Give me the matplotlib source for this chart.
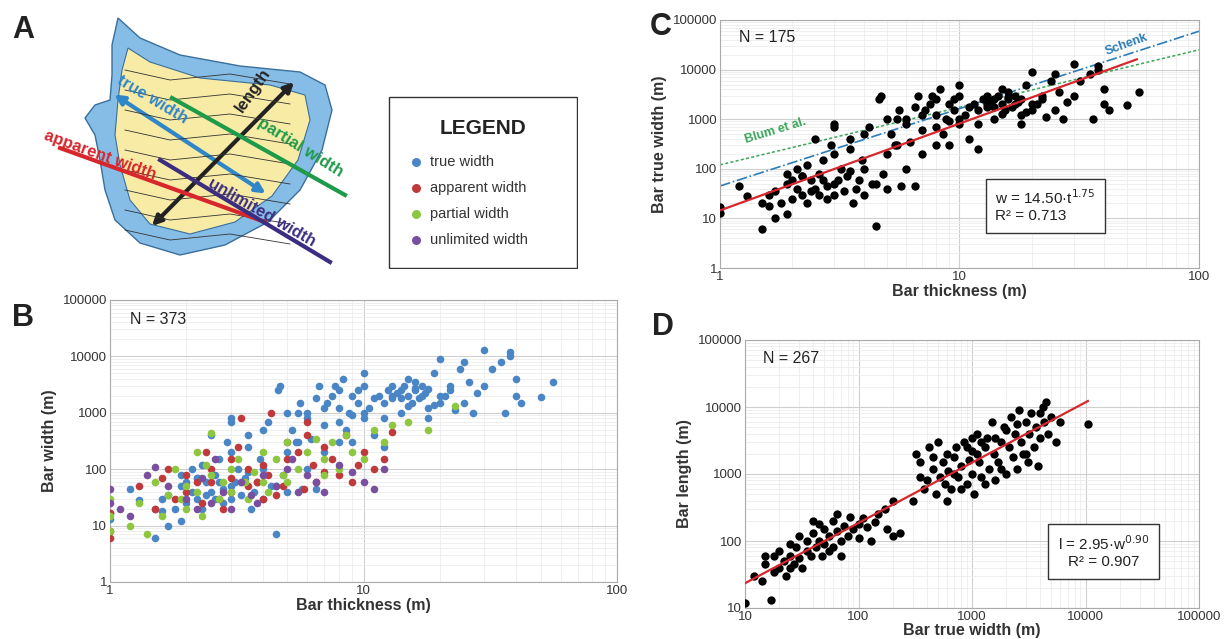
import matplotlib
matplotlib.use("Agg")
import matplotlib.pyplot as plt
import numpy as np
from matplotlib.patches import Polygon, Rectangle, FancyArrowPatch

plt.rcParams['font.family'] = ['Liberation Sans', 'DejaVu Sans']

# ---- data ----
# panel C / true width in B: (thickness m, true width m)
c_pts = [(1,17),(1,13),(1.2,45),(1.3,28),(1.5,6),(1.5,20),(1.6,18),(1.6,30),(1.7,10),(1.7,35),(1.8,20),(1.9,12),(1.9,50),
 (2,25),(2,60),(2.1,40),(2.1,100),(2.2,70),(2.2,30),(2.3,20),(2.3,120),(2.4,35),(2.4,60),(2.5,40),(2.5,400),(2.6,30),(2.6,80),
 (2.7,150),(2.8,25),(2.8,45),(2.9,300),(3,50),(3,800),(3,200),(3,30),(3.1,60),(3.2,100),(3.3,35),(3.4,70),(3.5,90),(3.5,250),
 (3.6,20),(3.7,40),(3.8,60),(3.9,150),(4,100),(4,500),(4,30),(4.2,700),(4.3,50),(4.5,7),(4.6,2500),(4.7,3000),(4.8,80),(5,200),
 (5,40),(5.2,500),(5.4,300),(5.5,1000),(5.6,1500),(5.7,45),(6,100),(6,800),(6.2,350),(6.5,45),(6.7,3000),(7,600),(7,200),
 (7.2,1500),(7.5,2000),(7.7,3000),(8,700),(8,1200),(8.3,4000),(8.5,500),(8.8,1000),(9,2000),(9,300),(9.5,1500),(10,800),
 (10,3000),(10,5000),(10.5,1200),(11,400),(11.5,2000),(12,250),(12,1500),(12.5,2500),(13,3000),(13,1800),(13.5,2200),(14,2500),
 (14,1000),(14.5,3000),(15,2000),(15,4000),(15.5,1500),(16,2500),(16,3500),(16.5,1800),(17,3000),(17.5,2200),(18,800),(18,2600),
 (19,5000),(20,9000),(20,1500),(21,2000),(22,3000),(23,1100),(24,6000),(25,8000),(26,3500),(27,1000),(28,2200),(30,13000),
 (30,3000),(32,6000),(35,8000),(36,1000),(38,12000),(38,10000),(40,4000),(40,2000),(42,1500),(50,1900),(56,3500),(25,1500),
 (20,2000),(18,1200),(15,1300),(14,1800),(12,800),(9,900),(8,2500),(7,1200),(6.5,1800),(5.5,300),(5,1000),(4.5,50),(3.5,400),
 (3,700),(2.7,60),(2.2,70),(1.9,80),(16,2800),(17,2000),(19,1400),(22,2500),(13,2000),(11,1800),(10,1000),(9.5,2500),(8,300),(6,1000)]
apparent_pts = [(1,6),(1,8),(1,17),(1.3,50),(1.5,20),(1.7,100),(1.8,30),(2,80),(2,40),(2.2,60),(2.3,25),(2.5,100),(2.5,60),
 (2.7,30),(2.8,20),(3,150),(3,70),(3,40),(3.2,250),(3.5,50),(3.5,100),(3.8,60),(4,30),(4,120),(4.2,80),(4.5,35),(4.8,50),
 (5,300),(5,150),(5.5,200),(5.8,45),(6,700),(6.3,120),(6.5,60),(7,250),(7,90),(7.5,150),(8,80),(8.5,400),(9,60),(9.5,120),
 (10,200),(11,100),(12,150),(13,450),(3.3,800),(4.3,1000),(6,400),(2.4,200),(1.6,70)]
partial_pts = [(1,8),(1,15),(1,30),(1.2,10),(1.3,25),(1.4,7),(1.5,60),(1.6,15),(1.7,35),(1.8,100),(1.9,30),(2,20),(2,50),
 (2.2,40),(2.3,15),(2.4,120),(2.5,80),(2.5,430),(2.7,30),(2.8,60),(3,100),(3,40),(3.2,150),(3.4,60),(3.5,30),(3.7,90),(4,200),
 (4,60),(4.2,40),(4.5,150),(4.8,80),(5,60),(5,300),(5.5,100),(6,200),(6.5,350),(7,80),(7,150),(7.5,300),(8,100),(8.5,400),
 (9,200),(10,150),(11,500),(12,300),(13,600),(18,500),(23,1300),(15,700),(2.2,200)]
unlimited_pts = [(1,45),(1,25),(1.2,15),(1.4,80),(1.5,110),(1.7,50),(2,30),(2.2,20),(2.5,25),(2.6,150),(2.8,40),(3,20),
 (3.3,60),(3.6,35),(4,80),(4.5,50),(5,100),(5.5,40),(6,80),(6.5,60),(7,40),(8,120),(9,90),(10,60),(11,45),(12,100),(1.1,20),
 (2.3,70),(3.8,25),(5.2,150)]
# panel D: (true width m, length m)
d_pts = [(10,12),(12,30),(14,25),(15,45),(17,13),(18,35),(18,60),(20,40),(20,70),(22,50),(23,30),(25,60),(25,90),(27,45),
 (28,80),(30,55),(30,120),(32,40),(35,70),(35,100),(38,60),(40,130),(40,200),(42,80),(45,100),(48,60),(50,150),(50,90),(55,120),
 (60,80),(60,200),(65,140),(70,100),(75,170),(80,120),(85,230),(90,150),(100,180),(100,110),(110,220),(120,160),(130,100),
 (140,190),(150,250),(170,300),(180,150),(200,120),(200,400),(230,130),(15,60),(25,40),(45,180),(55,70),(65,250),(70,60),
 (300,400),(320,2000),(350,1500),(380,600),(400,800),(420,2500),(450,1200),(480,500),(500,3000),(520,900),(550,1500),(580,700),
 (600,2000),(620,1100),(650,600),(700,1800),(720,2500),(750,900),(800,1300),(850,3000),(900,700),(950,1600),(1000,2200),
 (1000,1000),(1050,500),(1100,4000),(1150,1500),(1200,900),(1300,2500),(1350,3500),(1400,1200),(1500,6000),(1550,2000),
 (1600,800),(1700,1500),(1800,3000),(1900,5000),(2000,1000),(2100,2500),(2200,7000),(2300,1800),(2400,4000),(2500,1200),
 (2600,9000),(2700,3000),(2800,2000),(3000,6000),(3100,1500),(3200,4000),(3300,8000),(3500,2500),(3700,5000),(3800,1300),
 (4000,3500),(4200,10000),(4300,6000),(4500,12000),(4700,4000),(5000,7000),(5500,3000),(6000,6000),(10500,5500),(600,400),
 (900,2500),(1200,3000),(2000,4500),(1600,3500),(800,600),(1100,2000),(2500,5500),(3000,2000),(4000,8000),(700,1000),
 (1300,700),(1800,1200),(450,1800),(350,900),(1000,3500)]

series_names = ['true width', 'apparent width', 'partial width', 'unlimited width']
series_colors = ['#4a86c5', '#c0393b', '#8dc63f', '#7a4fa0']

W, H = 1229, 639
fig = plt.figure(figsize=(W/100, H/100), dpi=100)

def ax_px(x0, y0, x1, y1):
    return fig.add_axes([x0/W, 1-y1/H, (x1-x0)/W, (y1-y0)/H])

def style_log(ax, xt, yt):
    ax.set_xscale('log'); ax.set_yscale('log')
    ax.set_xlim(xt[0], xt[-1]); ax.set_ylim(yt[0], yt[-1])
    ax.set_xticks(xt, [str(v) for v in xt])
    ax.set_yticks(yt, [str(v) for v in yt])
    ax.xaxis.set_minor_formatter(matplotlib.ticker.NullFormatter())
    ax.yaxis.set_minor_formatter(matplotlib.ticker.NullFormatter())
    ax.grid(True, which='major', color='#cfcfcf', lw=0.8)
    ax.grid(True, which='minor', color='#ececec', lw=0.6)
    ax.set_axisbelow(True)
    ax.tick_params(which='both', length=0, pad=2, labelsize=9.5, colors='#333333')
    for s in ax.spines.values():
        s.set_color('#aaaaaa')

lab = dict(fontsize=11.5, fontweight='bold', color='#333333')
let = dict(fontsize=22, fontweight='bold', color='#222222')

# ---- panel A diagram ----
axa = ax_px(0, 0, 385, 275)
axa.set_xlim(0, 385); axa.set_ylim(275, 0); axa.axis('off')
outer = [(118,18),(140,38),(180,55),(240,66),(300,72),(325,85),(332,110),(322,150),(300,190),(268,222),(225,245),
         (180,255),(140,243),(115,220),(105,190),(100,160),(95,135),(85,118),(95,105),(110,100),(112,75),(112,45)]
inner = [(128,48),(150,62),(200,78),(270,85),(305,95),(310,120),(298,160),(272,196),(235,222),(190,234),(150,224),
         (130,200),(120,165),(115,135),(118,100),(122,70)]
axa.add_patch(Polygon(outer, closed=True, fc='#86bde6', ec='#3a6f9c', lw=1))
axa.add_patch(Polygon(inner, closed=True, fc='#f7eba5', ec='#3a6f9c', lw=0.8))
for k in range(9):
    yy = 70 + k*18
    xs = np.array([125, 170, 230, 290])
    axa.plot(xs, yy + np.array([0, 10, 4, 14]) + k*2, color='#333333', lw=0.6)
def arr(p0, p1, c):
    axa.add_patch(FancyArrowPatch(p0, p1, arrowstyle='<|-|>', mutation_scale=14, color=c, lw=3))
arr((112,93), (268,195), '#2f86c8')
arr((150,228), (296,80), '#222222')
axa.plot([172,345],[98,195], color='#1f9a4a', lw=3)
axa.plot([60,265],[148,222], color='#d7262c', lw=3)
axa.plot([160,330],[160,262], color='#3c2d80', lw=3)
axa.text(152,100,'true width', color='#2f86c8', rotation=-31, fontsize=12, fontweight='bold', ha='center', va='center')
axa.text(253,90,'length', color='#222222', rotation=55, fontsize=12, fontweight='bold', ha='center', va='center')
axa.text(300,148,'partial width', color='#1f9a4a', rotation=-32, fontsize=12, fontweight='bold', ha='center', va='center')
axa.text(100,155,'apparent width', color='#d7262c', rotation=-20, fontsize=12, fontweight='bold', ha='center', va='center')
axa.text(262,212,'unlimited width', color='#3c2d80', rotation=-30, fontsize=12, fontweight='bold', ha='center', va='center')
fig.text(12/W, 1-30/H, 'A', **let, va='center')

# legend box
axl = ax_px(388, 96, 578, 269)
axl.set_xlim(0, 190); axl.set_ylim(173, 0); axl.axis('off')
axl.add_patch(Rectangle((1,1),188,171, fc='white', ec='#333333', lw=1))
axl.text(95, 32, 'LEGEND', fontsize=15, fontweight='bold', ha='center', va='center', color='#222222')
for i, (n, c) in enumerate(zip(series_names, series_colors)):
    yy = 66 + i*26
    axl.scatter([28], [yy], s=30, color=c)
    axl.text(42, yy, n, fontsize=10.5, va='center', color='#333333')

# ---- panel B ----
axb = ax_px(110, 300, 617, 582)
style_log(axb, [1,10,100], [1,10,100,1000,10000,100000])
for pts, c in zip([c_pts, apparent_pts, partial_pts, unlimited_pts], series_colors):
    a = np.array(pts)
    axb.scatter(a[:,0], a[:,1], s=30, color=c, lw=0, zorder=3)
axb.set_xlabel('Bar thickness (m)', **lab, labelpad=1)
axb.set_ylabel('Bar width (m)', **lab)
axb.text(0.04, 0.93, 'N = 373', transform=axb.transAxes, fontsize=11.5, va='center', color='#222222')
fig.text(12/W, 1-318/H, 'B', **let, va='center')

# ---- panel C ----
axc = ax_px(720, 20, 1199, 268)
style_log(axc, [1,10,100], [1,10,100,1000,10000,100000])
a = np.array(c_pts)
axc.scatter(a[:,0], a[:,1], s=36, color='black', lw=0, zorder=3)
t = np.array([1, 100])
axc.plot(t, 120*t**1.16, color='#3aa55a', ls=(0,(2,1.5)), lw=1.1)
axc.plot(t, 45*t**1.56, color='#2a7db8', ls='-.', lw=1.2)
t2 = np.array([1, 55])
axc.plot(t2, 14.5*t2**1.75, color='#d7262c', lw=1.6, zorder=4)
axc.text(1.25, 330, 'Blum et al.', color='#3aa55a', fontsize=9, fontweight='bold', rotation=17)
axc.text(40, 20000, 'Schenk', color='#2a7db8', fontsize=9, fontweight='bold', rotation=20)
axc.text(0.04, 0.93, 'N = 175', transform=axc.transAxes, fontsize=11.5, va='center', color='#222222')
axc.text(0.575, 0.25, 'w = 14.50·t$^{1.75}$\nR² = 0.713', transform=axc.transAxes, fontsize=11, va='center',
         color='#222222', bbox=dict(fc='white', ec='#333333', lw=1, pad=7))
axc.set_xlabel('Bar thickness (m)', **lab, labelpad=1)
axc.set_ylabel('Bar true width (m)', **lab)
fig.text(650/W, 1-27/H, 'C', **let, va='center')

# ---- panel D ----
axd = ax_px(745, 340, 1199, 608)
style_log(axd, [10,100,1000,10000,100000], [10,100,1000,10000,100000])
a = np.array(d_pts)
axd.scatter(a[:,0], a[:,1], s=36, color='black', lw=0, zorder=3)
w = np.array([10, 10500])
axd.plot(w, 2.95*w**0.9, color='#d7262c', lw=1.6, zorder=4)
axd.text(0.04, 0.93, 'N = 267', transform=axd.transAxes, fontsize=11.5, va='center', color='#222222')
axd.text(0.79, 0.21, 'l = 2.95·w$^{0.90}$\nR² = 0.907', transform=axd.transAxes, fontsize=11, va='center', ha='center',
         color='#222222', bbox=dict(fc='white', ec='#333333', lw=1, pad=7))
axd.set_xlabel('Bar true width (m)', **lab, labelpad=0)
axd.set_ylabel('Bar length (m)', **lab)
fig.text(652/W, 1-327/H, 'D', **let, va='center')

fig.savefig('out.png', dpi=100)
